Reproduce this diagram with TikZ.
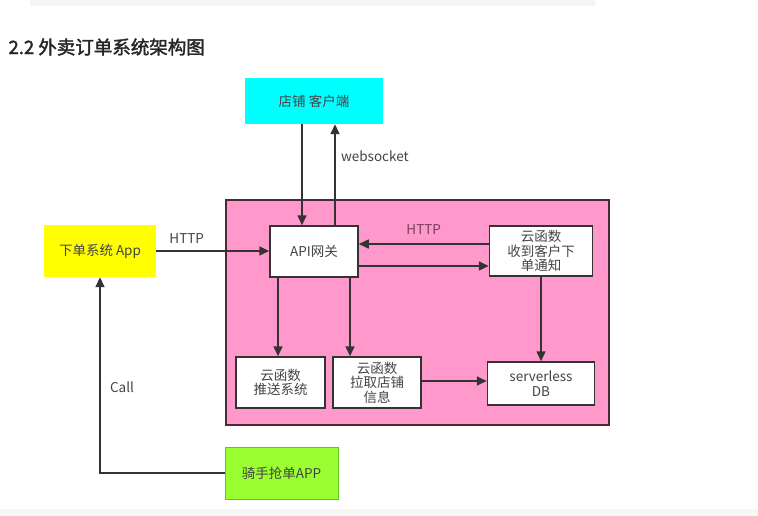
\documentclass[tikz,border=0pt]{standalone}
\usepackage{fontspec}
\setmainfont{Noto Sans CJK SC}[AutoFakeBold=2]
\usepackage{tikz}
\usetikzlibrary{positioning,arrows.meta}
\definecolor{boxline}{HTML}{333333}
\definecolor{txtgray}{HTML}{444444}
\definecolor{storecyan}{HTML}{00FFFF}
\definecolor{orderyellow}{HTML}{FFFF00}
\definecolor{ridergreen}{HTML}{99FF33}
\definecolor{ridergreenline}{HTML}{5FC61A}
\definecolor{cloudpink}{HTML}{FF99CC}
\definecolor{cloudline}{HTML}{4A2A38}
\definecolor{httppurple}{HTML}{7A3F60}
\tikzset{
  appbox/.style={draw=none, align=center, text=txtgray, font=\fontsize{13.5}{14.5}\selectfont},
  svcbox/.style={draw=boxline, line width=1.5pt, fill=white, align=center, text=txtgray, font=\fontsize{13.5}{14.5}\selectfont},
  arrow/.style={-{Triangle[length=10pt,width=9pt]}, draw=boxline, line width=1.6pt},
  lbl/.style={text=txtgray, font=\fontsize{13.5}{14.5}\selectfont}
}
\begin{document}
\begin{tikzpicture}[x=1pt, y=-1pt]
  \useasboundingbox (0,0) rectangle (758,516);
  \fill[black!4] (30,0) rectangle (595,6);
  \fill[black!3] (0,509) rectangle (758,516);

  \node[anchor=west, font=\fontsize{18.5}{20}\selectfont\bfseries, text=black!85] (title) at (5,47) {2.2 外卖订单系统架构图};

  % cloud area
  \node[draw=cloudline, line width=1.5pt, fill=cloudpink, minimum width=383pt, minimum height=225pt] (cloud) at (417.5,312.5) {};

  \node[appbox, fill=storecyan, minimum width=138pt, minimum height=46pt] (store) at (314,101) {店铺 客户端};
  \node[appbox, fill=orderyellow, minimum width=112pt, minimum height=52pt] (order) at (100,251) {下单系统 App};
  \node[appbox, draw=ridergreenline, line width=1pt, fill=ridergreen, minimum width=113pt, minimum height=52pt] (rider) at (281.5,473) {骑手抢单APP};

  \node[svcbox, minimum width=88pt, minimum height=51pt] (api) at (314,251.5) {API网关};
  \node[svcbox, minimum width=103pt, minimum height=50pt, inner sep=1pt] (notify) at (541,251) {云函数\\收到客户下\\单通知};
  \node[svcbox, minimum width=89pt, minimum height=51pt] (push) at (280.5,382.5) {云函数\\推送系统};
  \node[svcbox, minimum width=88pt, minimum height=51pt, inner sep=1pt] (pull) at (377,382.5) {云函数\\拉取店铺\\信息};
  \node[svcbox, minimum width=107pt, minimum height=43pt] (db) at (541,383.5) {serverless\\DB};

  \draw[arrow] ([xshift=-12pt]store.south) -- ([xshift=-12pt]api.north);
  \draw[arrow] ([xshift=21pt]api.north) -- ([xshift=21pt]store.south)
    node[lbl, pos=0.68, right=2pt] (ws) {websocket};

  \draw[arrow] (order.east) -- (order.east -| api.west)
    node[lbl, pos=0.27, above=3pt] (http1) {HTTP};
  \draw[arrow] ([yshift=7pt]notify.west) -- ([yshift=7pt]notify.west -| api.east)
    node[lbl, text=httppurple, pos=0.5, above=5pt] (http2) {HTTP};
  \draw[arrow] ([yshift=-14.5pt]api.east) -- ([yshift=-14.5pt]api.east -| notify.west);

  \draw[arrow] ([xshift=-36pt]api.south) -- ([xshift=-36pt]api.south |- push.north);
  \draw[arrow] ([xshift=36pt]api.south) -- ([xshift=36pt]api.south |- pull.north);
  \draw[arrow] ([yshift=1.5pt]pull.east) -- ([yshift=1.5pt]pull.east -| db.west);
  \draw[arrow] (notify.south) -- (notify.south |- db.north);

  \draw[arrow] (rider.west) -| (order.south)
    node[lbl, pos=0.72, right=6pt] (call) {Call};
\end{tikzpicture}
\end{document}
